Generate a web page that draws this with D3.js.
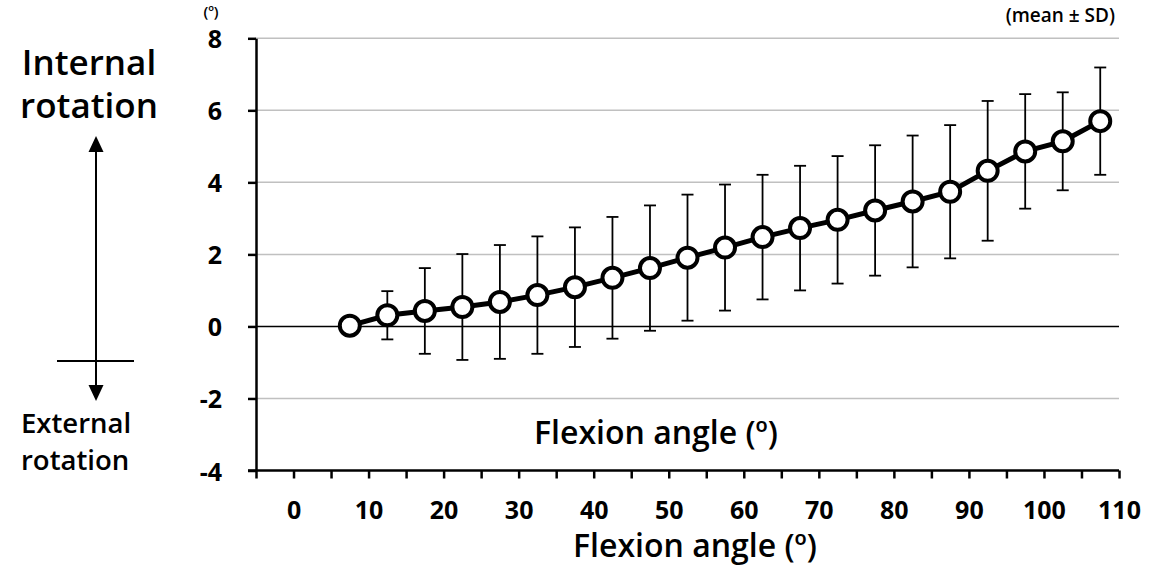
<!DOCTYPE html>
<html>
<head>
<meta charset="utf-8">
<script src="https://cdn.jsdelivr.net/npm/d3@7"></script>
<style>
  body { margin: 0; background: #fff; }
  svg { display: block; font-family: "Open Sans", "Noto Sans", sans-serif; }
</style>
</head>
<body>
<svg id="chart" width="1168" height="569"></svg>
<script>
// Data
const flexion = [7.5, 12.5, 17.5, 22.5, 27.5, 32.5, 37.5, 42.5, 47.5, 52.5, 57.5,
                 62.5, 67.5, 72.5, 77.5, 82.5, 87.5, 92.5, 97.5, 102.5, 107.5];
const meanRot = [0.02, 0.31, 0.43, 0.54, 0.68, 0.87, 1.09, 1.35, 1.62, 1.91, 2.19,
                 2.48, 2.73, 2.96, 3.22, 3.47, 3.74, 4.32, 4.86, 5.14, 5.70];
const sdRot = [0, 0.67, 1.19, 1.47, 1.58, 1.63, 1.66, 1.69, 1.74, 1.75, 1.75,
               1.73, 1.73, 1.77, 1.81, 1.83, 1.85, 1.94, 1.59, 1.36, 1.49];
const yTicks = [-4, -2, 0, 2, 4, 6, 8];
const xTicks = d3.range(-5, 111, 5);

const width = 1168, height = 569;
const svg = d3.select("#chart");
const plot = { left: 256, right: 1119, top: 38.3, bottom: 470.5 };

const data = flexion.map((f, i) => ({ x: f, y: meanRot[i], sd: sdRot[i] }));

const x = d3.scaleLinear().domain([-5, 110]).range([plot.left, plot.right]);
const y = d3.scaleLinear().domain([-4, 8]).range([plot.bottom, plot.top]);

svg.append("rect").attr("width", width).attr("height", height).attr("fill", "#fff");

// gridlines
svg.append("g")
  .selectAll("line")
  .data(yTicks.filter(d => d !== 0 && d !== -4))
  .join("line")
  .attr("x1", plot.left).attr("x2", plot.right)
  .attr("y1", d => y(d)).attr("y2", d => y(d))
  .attr("stroke", "#c0c0c0")
  .attr("stroke-width", 1.5);

// zero line
svg.append("line")
  .attr("x1", plot.left).attr("x2", plot.right)
  .attr("y1", y(0)).attr("y2", y(0))
  .attr("stroke", "#000")
  .attr("stroke-width", 1.5);

// axes
const yAxis = svg.append("g")
  .attr("transform", `translate(${plot.left},0)`)
  .call(d3.axisLeft(y).tickValues(yTicks).tickSize(8).tickSizeOuter(0).tickFormat(d => String(d)));
yAxis.select(".domain").attr("stroke-width", 2.5);
yAxis.selectAll(".tick line").attr("stroke-width", 2.5);
yAxis.selectAll(".tick text")
  .attr("x", -34).attr("dy", null).attr("y", 9.5)
  .attr("font-size", 25).attr("font-weight", 700)
  .attr("font-family", "'Open Sans', sans-serif");

const xAxis = svg.append("g")
  .attr("transform", `translate(0,${plot.bottom})`)
  .call(d3.axisBottom(x).tickValues(xTicks).tickSize(8).tickSizeOuter(0)
    .tickFormat(d => d % 10 === 0 ? String(d) : ""));
xAxis.select(".domain").attr("stroke-width", 2.5).attr("d", `M${plot.left - 8},0H${plot.right}`);
xAxis.selectAll(".tick line").attr("stroke-width", 2.5);
xAxis.selectAll(".tick text")
  .attr("dy", null).attr("y", 48.5)
  .attr("font-size", 25).attr("font-weight", 700)
  .attr("font-family", "'Open Sans', sans-serif");

// error bars
const eb = svg.append("g").attr("stroke", "#000").attr("stroke-width", 1.8);
data.filter(d => d.sd > 0).forEach(d => {
  eb.append("line")
    .attr("x1", x(d.x)).attr("x2", x(d.x))
    .attr("y1", y(d.y + d.sd)).attr("y2", y(d.y - d.sd));
  [d.y + d.sd, d.y - d.sd].forEach(v => {
    eb.append("line")
      .attr("x1", x(d.x) - 6).attr("x2", x(d.x) + 6)
      .attr("y1", y(v)).attr("y2", y(v));
  });
});

// mean line
svg.append("path")
  .datum(data)
  .attr("fill", "none")
  .attr("stroke", "#000")
  .attr("stroke-width", 5)
  .attr("d", d3.line().x(d => x(d.x)).y(d => y(d.y)));

svg.append("g")
  .selectAll("circle")
  .data(data)
  .join("circle")
  .attr("cx", d => x(d.x))
  .attr("cy", d => y(d.y))
  .attr("r", 10)
  .attr("fill", "#fff")
  .attr("stroke", "#000")
  .attr("stroke-width", 4);

// labels
svg.append("text")
  .attr("x", 211).attr("y", 17)
  .attr("text-anchor", "middle")
  .attr("font-size", 15).attr("font-weight", 600)
  .text("(º)");

svg.append("text")
  .attr("x", 1115).attr("y", 22)
  .attr("text-anchor", "end")
  .attr("font-size", 19).attr("font-weight", 600)
  .text("(mean ± SD)");

svg.append("text")
  .attr("x", 656).attr("y", 444)
  .attr("text-anchor", "middle")
  .attr("font-size", 32).attr("font-weight", 600)
  .text("Flexion angle (º)");

svg.append("text")
  .attr("x", 695).attr("y", 557)
  .attr("text-anchor", "middle")
  .attr("font-size", 32).attr("font-weight", 600)
  .text("Flexion angle (º)");

const side = svg.append("g").attr("font-size", 35).attr("font-weight", 600);
side.append("text").attr("x", 89).attr("y", 75).attr("text-anchor", "middle").text("Internal");
side.append("text").attr("x", 89).attr("y", 118).attr("text-anchor", "middle").text("rotation");
side.append("text").attr("x", 21).attr("y", 433).attr("font-size", 27.5).text("External");
side.append("text").attr("x", 21).attr("y", 470).attr("font-size", 27.5).text("rotation");

// arrow
svg.append("line")
  .attr("x1", 96).attr("x2", 96).attr("y1", 150).attr("y2", 388)
  .attr("stroke", "#000").attr("stroke-width", 2);
svg.append("path").attr("d", "M96,136L88.5,152L103.5,152Z").attr("fill", "#000");
svg.append("path").attr("d", "M96,401L88.5,385L103.5,385Z").attr("fill", "#000");
svg.append("line")
  .attr("x1", 57).attr("x2", 134).attr("y1", 361).attr("y2", 361)
  .attr("stroke", "#000").attr("stroke-width", 2);
</script>
</body>
</html>
